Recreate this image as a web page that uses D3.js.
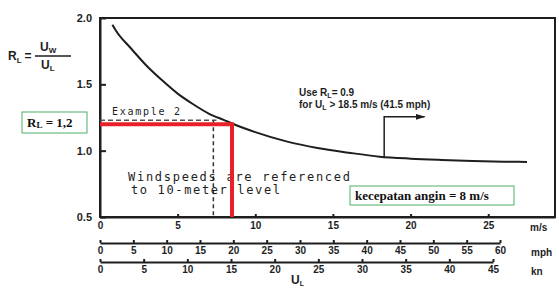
<!DOCTYPE html>
<html>
<head>
<meta charset="utf-8">
<script src="https://cdn.jsdelivr.net/npm/d3@7"></script>
<style>
  body { margin: 0; background: #fff; }
  svg { display: block; }
  .scan { font-family: "Liberation Sans", Arial, sans-serif; font-weight: bold; fill: #1e1e1e; }
  .mono { font-family: "DejaVu Sans Mono", monospace; fill: #1e1e1e; }
  .box { font-family: "Liberation Serif", "Times New Roman", serif; font-weight: bold; fill: #111; }
</style>
</head>
<body>
<svg id="chart" width="559" height="288"></svg>
<script>
// wind speed over land U_L (m/s) and ratio R_L
var speed = [0.8, 1, 2, 3, 4, 5, 6, 7, 8, 8.5, 10, 12, 14, 16, 18, 20, 22, 24, 26, 27.5],
	ratio = [1.95, 1.91, 1.77, 1.64, 1.53, 1.43, 1.35, 1.28, 1.23, 1.205, 1.14, 1.07, 1.02, 0.985, 0.955, 0.94, 0.93, 0.922, 0.917, 0.915],
	yTicks = [0.5, 1.0, 1.5, 2.0],
	msTicks = [0, 5, 10, 15, 20, 25],
	mphTicks = [0, 5, 10, 15, 20, 25, 30, 35, 40, 45, 50, 55, 60],
	knTicks = [0, 5, 10, 15, 20, 25, 30, 35, 40, 45],
	exampleU = 7.3, exampleR = 1.23,   // dashed "Example 2" lines
	readU = 8.5, readR = 1.2,          // red reading lines
	arrowU = 18.3, arrowR = 1.255, arrowEndU = 20.9;

var svg = d3.select("#chart"),
	plotLeft = 100, plotRight = 555, plotTop = 18, plotBottom = 217;

var x = d3.scaleLinear().domain([0, 29.3]).range([plotLeft, plotRight]),
	y = d3.scaleLinear().domain([0.5, 2.0]).range([plotBottom, plotTop]),
	xMph = d3.scaleLinear().domain([0, 60]).range([plotLeft, 500]),
	xKn = d3.scaleLinear().domain([0, 45]).range([plotLeft, 493]);

function styleAxis(g, fontSize){
	g.selectAll("path.domain").attr("stroke", "#1e1e1e").attr("stroke-width", 2);
	g.selectAll(".tick line").attr("stroke", "#1e1e1e").attr("stroke-width", 2);
	g.selectAll(".tick text")
		.attr("class", "scan")
		.attr("font-size", fontSize)
		.attr("fill", "#1e1e1e");
	g.attr("font-family", null).attr("font-size", null);
}

// left axis
var yAxis = svg.append("g")
	.attr("transform", "translate(" + plotLeft + ",0)")
	.call(d3.axisLeft(y).tickValues(yTicks).tickFormat(d3.format(".1f"))
		.tickSizeInner(-6).tickSizeOuter(0).tickPadding(8));
styleAxis(yAxis, 11);

// m/s axis (bottom of frame)
var xAxis = svg.append("g")
	.attr("transform", "translate(0," + plotBottom + ")")
	.call(d3.axisBottom(x).tickValues(msTicks).tickFormat(d3.format("d"))
		.tickSizeInner(-3).tickSizeOuter(0).tickPadding(5));
styleAxis(xAxis, 10);
xAxis.selectAll(".tick").filter(function(d){ return d === 0; }).select("line").remove();

// mph axis
var mphAxis = svg.append("g")
	.attr("transform", "translate(0,243)")
	.call(d3.axisBottom(xMph).tickValues(mphTicks).tickFormat(d3.format("d"))
		.tickSizeInner(-3).tickSizeOuter(0).tickPadding(4));
styleAxis(mphAxis, 10);

// knots axis
var knAxis = svg.append("g")
	.attr("transform", "translate(0,262)")
	.call(d3.axisBottom(xKn).tickValues(knTicks).tickFormat(d3.format("d"))
		.tickSizeInner(-3).tickSizeOuter(0).tickPadding(4));
styleAxis(knAxis, 10);

// plot frame
svg.append("rect")
	.attr("x", plotLeft).attr("y", plotTop)
	.attr("width", plotRight - plotLeft).attr("height", plotBottom - plotTop)
	.attr("fill", "none").attr("stroke", "#1e1e1e").attr("stroke-width", 2);

// unit labels
svg.append("text").attr("class", "scan").attr("font-size", 10)
	.attr("x", 530).attr("y", 231).text("m/s");
svg.append("text").attr("class", "scan").attr("font-size", 10)
	.attr("x", 531).attr("y", 256).text("mph");
svg.append("text").attr("class", "scan").attr("font-size", 10)
	.attr("x", 531).attr("y", 275).text("kn");

var ul = svg.append("text").attr("class", "scan").attr("font-size", 12)
	.attr("x", 291).attr("y", 284);
ul.append("tspan").text("U");
ul.append("tspan").attr("font-size", 7).attr("dy", 2).text("L");

// R_L = Uw / UL
var rl = svg.append("text").attr("class", "scan").attr("font-size", 12)
	.attr("x", 8).attr("y", 60);
rl.append("tspan").text("R");
rl.append("tspan").attr("font-size", 8).attr("dy", 3).text("L");
rl.append("tspan").attr("dy", -3).attr("dx", 3).text("=");
svg.append("line").attr("x1", 35).attr("x2", 71).attr("y1", 56).attr("y2", 56)
	.attr("stroke", "#1e1e1e").attr("stroke-width", 1.5);
var uw = svg.append("text").attr("class", "scan").attr("font-size", 12)
	.attr("x", 40).attr("y", 51);
uw.append("tspan").text("U");
uw.append("tspan").attr("font-size", 8).attr("dy", 2).text("W");
var ul2 = svg.append("text").attr("class", "scan").attr("font-size", 12)
	.attr("x", 41).attr("y", 69);
ul2.append("tspan").text("U");
ul2.append("tspan").attr("font-size", 8).attr("dy", 2).text("L");

// curve
var pts = speed.map(function(d, i){ return [d, ratio[i]]; });
svg.append("path")
	.datum(pts)
	.attr("fill", "none")
	.attr("stroke", "#1e1e1e")
	.attr("stroke-width", 2)
	.attr("d", d3.line()
		.x(function(d){ return x(d[0]); })
		.y(function(d){ return y(d[1]); })
		.curve(d3.curveMonotoneX));

// Example 2 dashed lines
svg.append("line")
	.attr("x1", x(0)).attr("x2", x(exampleU + 0.2))
	.attr("y1", y(exampleR)).attr("y2", y(exampleR))
	.attr("stroke", "#555").attr("stroke-width", 1.5).attr("stroke-dasharray", "5,3");
svg.append("line")
	.attr("x1", x(exampleU)).attr("x2", x(exampleU))
	.attr("y1", y(exampleR)).attr("y2", y(0.5))
	.attr("stroke", "#333").attr("stroke-width", 1.5).attr("stroke-dasharray", "4,3");
svg.append("text").attr("class", "mono").attr("font-size", 10)
	.attr("x", 112).attr("y", 115).attr("fill", "#555")
	.attr("textLength", 68).attr("lengthAdjust", "spacing")
	.text("Example 2");

// note text
svg.append("text").attr("class", "mono").attr("font-size", 12)
	.attr("x", 128).attr("y", 181)
	.attr("textLength", 222).attr("lengthAdjust", "spacing")
	.text("Windspeeds are referenced");
svg.append("text").attr("class", "mono").attr("font-size", 12)
	.attr("x", 131).attr("y", 194)
	.attr("textLength", 149).attr("lengthAdjust", "spacing")
	.text("to 10-meter level");

// Use R_L = 0.9 note
var use = svg.append("text").attr("class", "scan").attr("font-size", 10)
	.attr("x", 299).attr("y", 96);
use.append("tspan").text("Use R");
use.append("tspan").attr("font-size", 7).attr("dy", 2).text("L");
use.append("tspan").attr("dy", -2).text("= 0.9");
var forT = svg.append("text").attr("class", "scan").attr("font-size", 10)
	.attr("x", 299).attr("y", 108);
forT.append("tspan").text("for U");
forT.append("tspan").attr("font-size", 7).attr("dy", 2).text("L");
forT.append("tspan").attr("dy", -2).text(" > 18.5 m/s (41.5 mph)");

// arrow
svg.append("defs").append("marker")
	.attr("id", "head").attr("viewBox", "0 0 10 6")
	.attr("refX", 9).attr("refY", 3)
	.attr("markerWidth", 10).attr("markerHeight", 6)
	.attr("markerUnits", "userSpaceOnUse")
	.attr("orient", "auto")
	.append("path").attr("d", "M0,0L10,3L0,6Z").attr("fill", "#1e1e1e");
var arrowBase = d3.scaleLinear().domain(speed).range(ratio)(arrowU);
svg.append("path")
	.attr("d", "M" + x(arrowU) + "," + y(arrowBase) + "V" + y(arrowR) + "H" + x(arrowEndU))
	.attr("fill", "none").attr("stroke", "#1e1e1e").attr("stroke-width", 1.5)
	.attr("marker-end", "url(#head)");

// red reading lines
svg.append("path")
	.attr("d", "M" + x(0) + "," + y(readR) + "H" + x(readU) + "V" + y(0.5))
	.attr("fill", "none").attr("stroke", "#e8202a").attr("stroke-width", 4)
	.attr("stroke-linejoin", "miter");

// boxed labels
function boxLabel(bx, by, bw, bh){
	svg.append("rect")
		.attr("x", bx).attr("y", by).attr("width", bw).attr("height", bh)
		.attr("fill", "#fff").attr("stroke", "#4caf6a").attr("stroke-width", 1);
}
boxLabel(22, 112, 65, 21);
var rBox = svg.append("text").attr("class", "box").attr("font-size", 13)
	.attr("x", 27).attr("y", 127);
rBox.append("tspan").text("R");
rBox.append("tspan").attr("font-size", 9).attr("dy", 1).text("L");
rBox.append("tspan").attr("dy", -1).text(" = 1,2");

boxLabel(350, 186, 164, 19);
svg.append("text").attr("class", "box").attr("font-size", 13)
	.attr("x", 355).attr("y", 200)
	.text("kecepatan angin = 8 m/s");
</script>
</body>
</html>
